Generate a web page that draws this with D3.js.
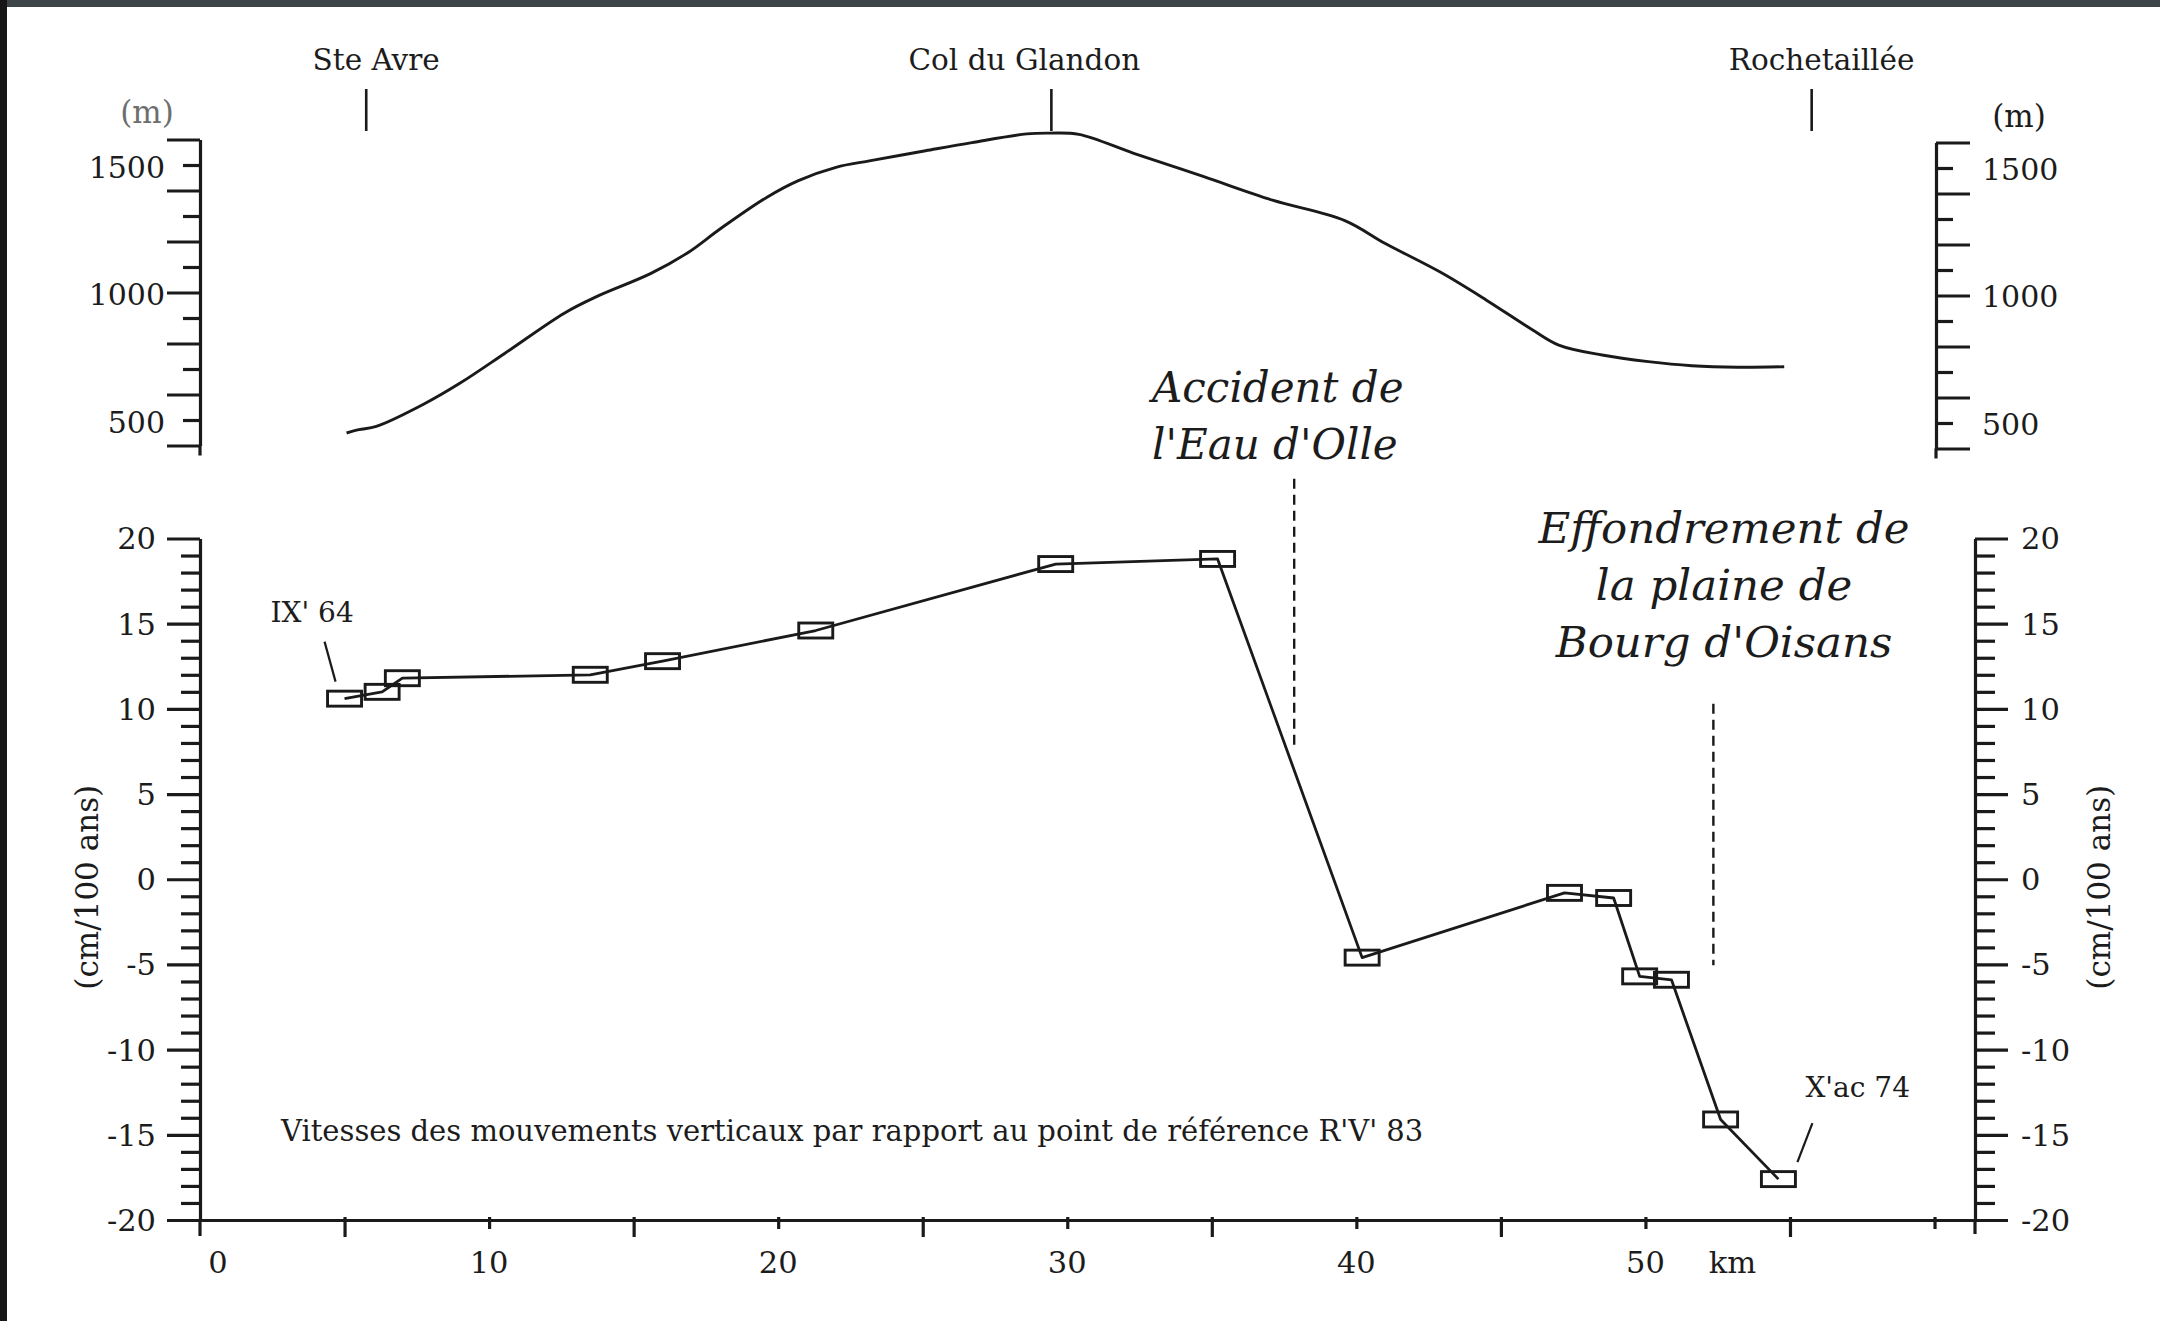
<!DOCTYPE html>
<html>
<head>
<meta charset="utf-8">
<script src="https://cdn.jsdelivr.net/npm/d3@7"></script>
<style>
  html, body { margin: 0; padding: 0; background: #fff; }
  svg { display: block; }
  text { font-family: "DejaVu Serif", "Liberation Serif", serif; fill: #1c1c1c; }
</style>
</head>
<body>
<svg id="chart" width="2160" height="1321"></svg>
<script>
// ---- Topographic profile along the levelling line ----
const profileKm   = [5.07, 5.5, 6.1, 7.7, 9.0, 10.55, 12.6, 13.7, 15.6, 16.9, 18.0, 19.6, 20.7, 22.0, 23.2, 25.1, 26.7, 28.6, 29.4, 30.4, 32.3, 34.7, 37.1, 39.6, 41.0, 42.9, 44.5, 46.1, 47.0, 48.5, 50.1, 51.6, 53.2, 54.8];
const profileElev = [449, 462, 475, 560, 645, 762, 919, 983, 1075, 1158, 1250, 1373, 1439, 1491, 1517, 1556, 1588, 1622, 1625, 1620, 1546, 1455, 1362, 1282, 1192, 1080, 970, 853, 794, 755, 729, 713, 707, 709];

// ---- Benchmarks: distance (km) and vertical velocity (cm / 100 ans) ----
const benchKm  = [5.0, 6.3, 7.0, 13.5, 16.0, 21.3, 29.6, 35.2, 40.2, 47.2, 48.9, 49.8, 50.9, 52.6, 54.6];
const benchVel = [10.6, 11.0, 11.8, 12.0, 12.8, 14.6, 18.5, 18.8, -4.6, -0.8, -1.1, -5.7, -5.9, -14.1, -17.6];
const firstBench = "IX' 64";
const lastBench  = "X'ac 74";

// ---- Places along the route ----
const placeNames = ["Ste Avre", "Col du Glandon", "Rochetaillée"];
const placeKm    = [5.75, 29.45, 55.75];

// ---- Tectonic features: position (km) and extent of the marker (cm / 100 ans) ----
const faultKm     = [37.85, 52.35];
const faultTop    = [23.5, 10.3];
const faultBottom = [7.9, -5.05];
const faultNames  = [["Accident de", "l'Eau d'Olle"], ["Effondrement de", "la plaine de", "Bourg d'Oisans"]];

// ---- Axis ticks ----
const kmTicks    = d3.range(5, 61, 5);
const kmLabels   = [0, 10, 20, 30, 40, 50];
const velTicks   = d3.range(-20, 21, 1);
const velLabels  = [-20, -15, -10, -5, 0, 5, 10, 15, 20];
const elevTicks  = d3.range(400, 1601, 100);
const elevLabels = [500, 1000, 1500];
const caption = "Vitesses des mouvements verticaux par rapport au point de référence R'V' 83";

// ------------------------------------------------------------------
const W = 2160, H = 1321;
const ink = "#1a1a1a";
const svg = d3.select("#chart");

svg.append("rect").attr("width", W).attr("height", H).attr("fill", "#fff");
svg.append("rect").attr("x", 0).attr("y", 0).attr("width", W).attr("height", 7).attr("fill", "#3d4548");
svg.append("rect").attr("x", 0).attr("y", 0).attr("width", 7).attr("height", H).attr("fill", "#161616");

const x     = d3.scaleLinear().domain([0, 61.4]).range([200, 1975]);
const yVel  = d3.scaleLinear().domain([-20, 20]).range([1220, 538.5]);
const yElev = d3.scaleLinear().domain([400, 1600]).range([445.5, 139.5]);

const fmt = d => String(d).replace("\u2212", "-");

function inkAxis(g) {
  g.selectAll("path.domain").attr("stroke", ink).attr("stroke-width", 3.2);
  g.selectAll(".tick line").attr("stroke", ink).attr("stroke-width", 3.2);
  g.selectAll(".tick text").remove();
}

// ================= Elevation panel =================
const gElevL = svg.append("g").attr("transform", "translate(200,0)")
  .call(d3.axisLeft(yElev).tickValues(elevTicks).tickSizeOuter(0).tickFormat(""))
  .call(inkAxis);
gElevL.selectAll(".tick line").attr("x2", d => d % 200 === 0 ? -33 : -17);
gElevL.append("line").attr("x1", 0).attr("x2", 0)
  .attr("y1", yElev(400)).attr("y2", yElev(400) + 10)
  .attr("stroke", ink).attr("stroke-width", 3.2);

svg.selectAll("text.elevL").data(elevLabels).join("text")
  .attr("class", "elevL")
  .attr("x", 165).attr("y", d => yElev(d) + 2).attr("dy", "0.36em")
  .attr("text-anchor", "end").attr("font-size", 30)
  .text(d => d);
svg.append("text").attr("x", 147).attr("y", 123).attr("text-anchor", "middle")
  .attr("font-size", 31).style("fill", "#6e6e6e").text("(m)");

const gElevR = svg.append("g").attr("transform", "translate(1936,3)")
  .call(d3.axisRight(yElev).tickValues(elevTicks).tickSizeOuter(0).tickFormat(""))
  .call(inkAxis);
gElevR.selectAll(".tick line").attr("x2", d => d % 200 === 0 ? 34 : 17);
gElevR.append("line").attr("x1", 0).attr("x2", 0)
  .attr("y1", yElev(400)).attr("y2", yElev(400) + 10)
  .attr("stroke", ink).attr("stroke-width", 3.2);

svg.selectAll("text.elevR").data(elevLabels).join("text")
  .attr("class", "elevR")
  .attr("x", 1982).attr("y", d => yElev(d) + 4).attr("dy", "0.36em")
  .attr("text-anchor", "start").attr("font-size", 30)
  .text(d => d);
svg.append("text").attr("x", 2019).attr("y", 127).attr("text-anchor", "middle")
  .attr("font-size", 31).text("(m)");

// profile line
const profile = profileKm.map((k, i) => [k, profileElev[i]]);
svg.append("path")
  .datum(profile)
  .attr("fill", "none").attr("stroke", ink).attr("stroke-width", 2.9)
  .attr("stroke-linejoin", "round")
  .attr("d", d3.line().x(d => x(d[0])).y(d => yElev(d[1])).curve(d3.curveCatmullRom.alpha(0.5)));

// places
const placeDx = [10, -27, 10];
const places = placeNames.map((n, i) => ({ name: n, km: placeKm[i], dx: placeDx[i] }));
svg.selectAll("line.place").data(places).join("line")
  .attr("class", "place")
  .attr("x1", d => x(d.km)).attr("x2", d => x(d.km))
  .attr("y1", 89).attr("y2", 131)
  .attr("stroke", ink).attr("stroke-width", 2.6);
svg.selectAll("text.place").data(places).join("text")
  .attr("class", "place")
  .attr("x", d => x(d.km) + d.dx).attr("y", 70)
  .attr("text-anchor", "middle").attr("font-size", 29.5)
  .text(d => d.name);

// ================= Velocity panel =================
const gVelL = svg.append("g").attr("transform", "translate(200,0)")
  .call(d3.axisLeft(yVel).tickValues(velTicks).tickSizeOuter(0).tickFormat(""))
  .call(inkAxis);
gVelL.selectAll(".tick line").attr("x2", d => d % 5 === 0 ? -33 : -19);
gVelL.append("line").attr("x1", 0).attr("x2", 0)
  .attr("y1", yVel(-20)).attr("y2", yVel(-20) + 16)
  .attr("stroke", ink).attr("stroke-width", 3.2);

svg.selectAll("text.velL").data(velLabels).join("text")
  .attr("class", "velL")
  .attr("x", 156).attr("y", d => yVel(d)).attr("dy", "0.36em")
  .attr("text-anchor", "end").attr("font-size", 30.5)
  .text(d => fmt(d));

const gVelR = svg.append("g").attr("transform", "translate(1975,0)")
  .call(d3.axisRight(yVel).tickValues(velTicks).tickSizeOuter(0).tickFormat(""))
  .call(inkAxis);
gVelR.selectAll(".tick line").attr("x2", d => d % 5 === 0 ? 33 : 20);
gVelR.append("line").attr("x1", 0).attr("x2", 0)
  .attr("y1", yVel(-20)).attr("y2", yVel(-20) + 14)
  .attr("stroke", ink).attr("stroke-width", 3.2);

svg.selectAll("text.velR").data(velLabels).join("text")
  .attr("class", "velR")
  .attr("x", 2021).attr("y", d => yVel(d)).attr("dy", "0.36em")
  .attr("text-anchor", "start").attr("font-size", 30.5)
  .text(d => fmt(d));

// axis titles
svg.append("text")
  .attr("transform", `translate(98,${(yVel(5) + yVel(-5)) / 2 + 8}) rotate(-90)`)
  .attr("text-anchor", "middle").attr("font-size", 31).text("(cm/100 ans)");
svg.append("text")
  .attr("transform", `translate(2110,${(yVel(5) + yVel(-5)) / 2 + 8}) rotate(-90)`)
  .attr("text-anchor", "middle").attr("font-size", 31).text("(cm/100 ans)");

// distance axis
const gKm = svg.append("g").attr("transform", `translate(0,${yVel(-20)})`)
  .call(d3.axisBottom(x).tickValues(kmTicks).tickSizeOuter(0).tickFormat(""))
  .call(inkAxis);
gKm.selectAll(".tick line").attr("y1", -3).attr("y2", d => d % 10 === 0 ? 9 : 17);

svg.selectAll("text.km").data(kmLabels).join("text")
  .attr("class", "km")
  .attr("x", d => d === 0 ? x(d) + 18 : x(d)).attr("y", 1273)
  .attr("text-anchor", "middle").attr("font-size", 30.5)
  .text(d => d);
svg.append("text").attr("x", x(50) + 87).attr("y", 1273)
  .attr("text-anchor", "middle").attr("font-size", 30.5).text("km");

// caption
svg.append("text").attr("x", 281).attr("y", 1141)
  .attr("font-size", 29).text(caption);

// faults
const faults = faultKm.map((k, i) => ({ km: k, top: faultTop[i], bottom: faultBottom[i], lines: faultNames[i] }));
svg.selectAll("line.fault").data(faults).join("line")
  .attr("class", "fault")
  .attr("x1", d => x(d.km)).attr("x2", d => x(d.km))
  .attr("y1", d => yVel(d.top)).attr("y2", d => yVel(d.bottom))
  .attr("stroke", ink).attr("stroke-width", 2.4).attr("stroke-dasharray", "10,6");

const faultText = [
  { x: 1152, y: 402, anchor: "start", size: 42 },
  { x: 1724, y: 543, anchor: "middle", size: 43.5 }
];
faults.forEach((f, i) => {
  const t = svg.append("text")
    .attr("x", faultText[i].x).attr("y", faultText[i].y)
    .attr("text-anchor", faultText[i].anchor)
    .attr("font-size", faultText[i].size).attr("font-style", "italic");
  f.lines.forEach((ln, j) => {
    t.append("tspan").attr("x", faultText[i].x).attr("dy", j === 0 ? 0 : 57).text(ln);
  });
});

// benchmark velocity line
const bench = benchKm.map((k, i) => [k, benchVel[i]]);
svg.append("path")
  .datum(bench)
  .attr("fill", "none").attr("stroke", ink).attr("stroke-width", 2.8)
  .attr("stroke-linejoin", "round")
  .attr("d", d3.line().x(d => x(d[0])).y(d => yVel(d[1])));

svg.selectAll("rect.bench").data(bench).join("rect")
  .attr("class", "bench")
  .attr("x", d => x(d[0]) - 17).attr("y", d => yVel(d[1]) - 7.5)
  .attr("width", 34).attr("height", 15)
  .attr("fill", "none").attr("stroke", ink).attr("stroke-width", 2.9);

// end-point labels with leaders
const p0 = bench[0], pN = bench[bench.length - 1];
const p0x = x(p0[0]), p0y = yVel(p0[1]);
const pNx = x(pN[0]), pNy = yVel(pN[1]);
svg.append("line").attr("x1", p0x - 20).attr("y1", p0y - 57).attr("x2", p0x - 9).attr("y2", p0y - 17)
  .attr("stroke", ink).attr("stroke-width", 2.2);
svg.append("text").attr("x", p0x - 74).attr("y", p0y - 77).attr("font-size", 28).text(firstBench);
svg.append("line").attr("x1", pNx + 34).attr("y1", pNy - 56).attr("x2", pNx + 19).attr("y2", pNy - 17)
  .attr("stroke", ink).attr("stroke-width", 2.2);
svg.append("text").attr("x", pNx + 27).attr("y", pNy - 82).attr("font-size", 28).text(lastBench);
</script>
</body>
</html>
